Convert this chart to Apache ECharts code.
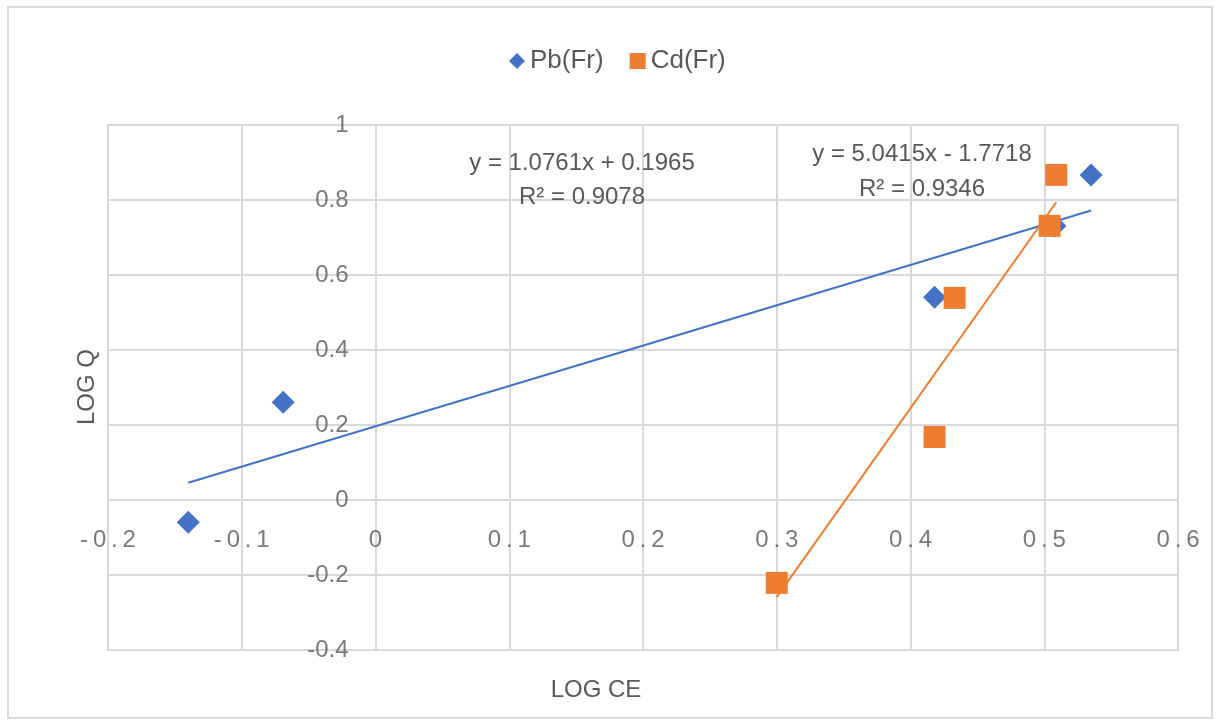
<!DOCTYPE html>
<html>
<head>
<meta charset="utf-8">
<script src="https://cdn.jsdelivr.net/npm/echarts@6/dist/echarts.min.js"></script>
<style>
  html, body { margin: 0; padding: 0; background: #fff; }
  #chart { width: 1216px; height: 726px; }
</style>
</head>
<body>
<div id="chart"></div>
<script>
// data
var pbPoints = [[-0.140, -0.059], [-0.069, 0.261], [0.418, 0.541], [0.508, 0.731], [0.535, 0.867]];
var cdPoints = [[0.300, -0.221], [0.418, 0.168], [0.433, 0.539], [0.504, 0.731], [0.509, 0.867]];
// trendline end points (Excel linear fits)
var pbTrend = [[-0.140, 0.046], [0.535, 0.772]];
var cdTrend = [[0.300, -0.259], [0.509, 0.794]];
var pbEquation = ['y = 1.0761x + 0.1965', 'R² = 0.9078'];
var cdEquation = ['y = 5.0415x - 1.7718', 'R² = 0.9346'];
var xTickValues = [-0.2, -0.1, 0, 0.1, 0.2, 0.3, 0.4, 0.5, 0.6];
var yTickValues = [-0.4, -0.2, 0, 0.2, 0.4, 0.6, 0.8, 1];

var textColor = '#595959';
var gridColor = '#d9d9d9';
var font = 'Liberation Sans';

var myChart = echarts.init(document.getElementById('chart'));

// x labels in the original are letter spaced
function spaced(v) {
    return String(v).split('').join('\u2009');
}

// tick labels sit on the zero lines, like the excel chart
var xLabelPoints = xTickValues.map(function (v) { return [v, 0]; });
var yLabelPoints = yTickValues.map(function (v) { return [0, v]; });

var option = {
    backgroundColor: '#fff',
    textStyle: { fontFamily: font, color: textColor },
    legend: {
        top: 43,
        left: 504,
        itemWidth: 16,
        itemHeight: 16,
        itemGap: 26,
        textStyle: { fontSize: 26, color: textColor, fontFamily: font },
        data: [
            { name: 'Pb(Fr)', icon: 'diamond' },
            { name: 'Cd(Fr)', icon: 'rect' }
        ]
    },
    grid: { left: 108, top: 125, right: 38, bottom: 76, show: true, borderColor: gridColor, borderWidth: 2 },
    xAxis: {
        type: 'value',
        min: xTickValues[0],
        max: xTickValues[xTickValues.length - 1],
        interval: 0.1,
        axisLine: { show: false },
        axisTick: { show: false },
        axisLabel: { show: false },
        splitLine: { lineStyle: { color: gridColor, width: 2 } }
    },
    yAxis: {
        type: 'value',
        min: yTickValues[0],
        max: yTickValues[yTickValues.length - 1],
        interval: 0.2,
        axisLine: { show: false },
        axisTick: { show: false },
        axisLabel: { show: false },
        splitLine: { lineStyle: { color: gridColor, width: 2 } }
    },
    series: [
        {
            name: 'Pb(Fr)', type: 'scatter', symbol: 'diamond', symbolSize: [23, 23],
            itemStyle: { color: '#4472C4', opacity: 1 }, data: pbPoints, z: 5
        },
        {
            name: 'Cd(Fr)', type: 'scatter', symbol: 'rect', symbolSize: [22, 22],
            itemStyle: { color: '#ED7D31', opacity: 1 }, data: cdPoints, z: 5
        },
        {
            name: 'Pb trend', type: 'line', data: pbTrend, symbol: 'none', silent: true,
            lineStyle: { color: '#4472C4', width: 2 }, z: 3
        },
        {
            name: 'Cd trend', type: 'line', data: cdTrend, symbol: 'none', silent: true,
            lineStyle: { color: '#ED7D31', width: 2 }, z: 3
        },
        {
            name: 'x labels', type: 'scatter', data: xLabelPoints, symbolSize: 0, silent: true, z: 4,
            label: {
                show: true, position: 'bottom', distance: 28, fontSize: 24, color: textColor, fontFamily: font,
                formatter: function (p) { return spaced(p.value[0]); }
            }
        },
        {
            name: 'y labels', type: 'scatter', data: yLabelPoints, symbolSize: 0, silent: true, z: 4,
            label: {
                show: true, position: 'left', distance: 27, fontSize: 24, color: textColor, fontFamily: font,
                formatter: function (p) { return String(p.value[1]); }
            }
        }
    ],
    graphic: [
        {
            type: 'rect', shape: { x: 8, y: 7, width: 1204, height: 711 },
            style: { fill: 'none', stroke: gridColor, lineWidth: 2 }, silent: true
        },
        {
            type: 'text', x: 582, y: 180, z: 10,
            style: { text: pbEquation.join('\n'), fill: textColor, font: '24px "Liberation Sans"', align: 'center', verticalAlign: 'middle', lineHeight: 34 }
        },
        {
            type: 'text', x: 922, y: 172, z: 10,
            style: { text: cdEquation.join('\n'), fill: textColor, font: '24px "Liberation Sans"', align: 'center', verticalAlign: 'middle', lineHeight: 35 }
        },
        {
            type: 'text', x: 596, y: 690,
            style: { text: 'LOG CE', fill: textColor, font: '24px "Liberation Sans"', align: 'center', verticalAlign: 'middle' }
        },
        {
            type: 'text', x: 87, y: 387, rotation: Math.PI / 2,
            style: { text: 'LOG Q', fill: textColor, font: '24px "Liberation Sans"', align: 'center', verticalAlign: 'middle' }
        }
    ]
};
myChart.setOption(option);
</script>
</body>
</html>
